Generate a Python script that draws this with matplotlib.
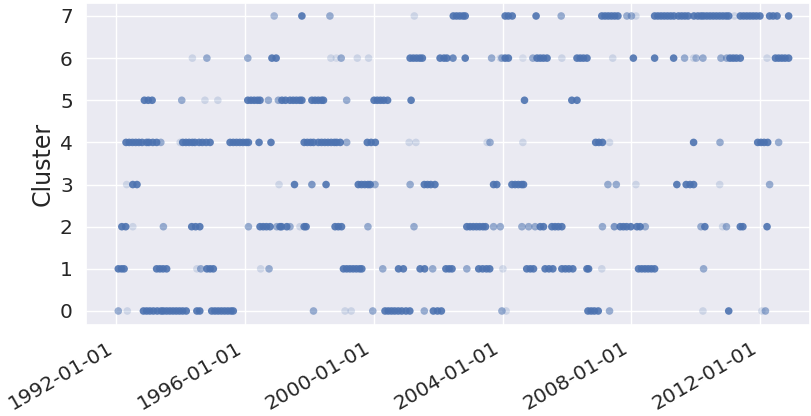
import matplotlib
matplotlib.use('Agg')
import matplotlib.pyplot as plt
import matplotlib.dates as mdates
import numpy as np
import pandas as pd
import seaborn as sns

# (decimal year, weight) per cluster
c0 = [(1992.07, .55), (1992.35, .2), (1992.85, .9), (1992.95, .9), (1993.05, .9), (1993.16, .9), (1993.28, .9),
      (1993.40, .9), (1993.47, .9), (1993.57, .9), (1993.67, .9), (1993.77, .9), (1993.87, .9), (1993.97, .9),
      (1994.07, .9), (1994.18, .9), (1994.51, .9), (1994.60, .9), (1994.97, .9), (1995.07, .9), (1995.17, .9),
      (1995.27, .9), (1995.37, .9), (1995.47, .9), (1995.57, .9), (1995.64, .9), (1998.13, .55), (1999.11, .2),
      (1999.30, .2), (1999.97, .55), (2000.35, .9), (2000.45, .9), (2000.55, .9), (2000.65, .9), (2000.76, .9),
      (2000.87, .9), (2001.00, .9), (2001.12, .9), (2001.57, .55), (2001.85, .9), (2001.98, .9), (2002.10, .9),
      (2003.98, .55), (2004.11, .2), (2006.65, .9), (2006.75, .9), (2006.85, .9), (2006.97, .9), (2007.32, .55),
      (2010.22, .2), (2011.02, .9), (2012.05, .2), (2012.16, .55)]
c1 = [(1992.07, .9), (1992.17, .9), (1992.25, .9), (1993.26, .9), (1993.36, .9), (1993.46, .9), (1993.57, .9),
      (1994.51, .2), (1994.63, .55), (1994.82, .9), (1994.92, .9), (1995.02, .9), (1996.49, .2), (1996.75, .55),
      (1999.06, .9), (1999.16, .9), (1999.26, .9), (1999.36, .9), (1999.46, .9), (1999.56, .9), (1999.63, .9),
      (2000.28, .55), (2000.77, .9), (2000.92, .9), (2001.44, .9), (2001.58, .9), (2001.83, .55), (2002.24, .9),
      (2002.34, .9), (2002.43, .9), (2002.89, .55), (2003.26, .9), (2003.38, .9), (2003.50, .9), (2003.60, .9),
      (2004.01, .2), (2004.75, .9), (2004.86, .9), (2004.96, .9), (2005.32, .9), (2005.44, .9), (2005.56, .9),
      (2005.84, .9), (2005.95, .9), (2006.06, .9), (2006.18, .9), (2006.62, .9), (2006.67, .9), (2007.08, .2),
      (2008.22, .9), (2008.32, .9), (2008.42, .9), (2008.52, .9), (2008.62, .9), (2008.72, .9), (2010.24, .55)]
c2 = [(1992.18, .9), (1992.30, .9), (1992.52, .2), (1993.47, .55), (1994.35, .9), (1994.47, .9), (1994.60, .9),
      (1996.11, .55), (1996.47, .9), (1996.57, .9), (1996.67, .9), (1996.78, .9), (1996.99, .55), (1997.09, .9),
      (1997.14, .9), (1997.30, .9), (1997.40, .55), (1997.71, .2), (1997.84, .9), (1997.90, .9), (1998.80, .9),
      (1998.90, .9), (1999.00, .9), (1999.82, .55), (2001.25, .55), (2002.89, .9), (2002.99, .9), (2003.09, .9),
      (2003.19, .9), (2003.29, .9), (2003.39, .9), (2003.47, .9), (2003.72, .55), (2003.93, .55), (2004.60, .55),
      (2004.81, .55), (2005.01, .55), (2005.17, .9), (2005.27, .9), (2005.53, .9), (2005.63, .9), (2005.73, .9),
      (2005.84, .9), (2007.10, .55), (2007.47, .7), (2007.65, .9), (2007.75, .9), (2007.85, .9), (2007.98, .9),
      (2008.17, .9), (2008.27, .9), (2008.43, .55), (2010.16, .55), (2010.28, .9), (2010.83, .2), (2010.95, .55),
      (2011.38, .9), (2011.46, .9), (2012.21, .9)]
c3 = [(1992.33, .2), (1992.52, .9), (1992.65, .9), (1997.06, .2), (1997.54, .9), (1998.08, .7), (1998.52, .9),
      (1999.52, .9), (1999.62, .9), (1999.72, .9), (1999.82, .9), (1999.89, .9), (2000.04, .55), (2001.13, .55),
      (2001.57, .9), (2001.67, .9), (2001.77, .9), (2001.90, .9), (2003.72, .9), (2003.82, .9), (2004.29, .9),
      (2004.39, .9), (2004.49, .9), (2004.59, .9), (2004.65, .9), (2007.27, .55), (2007.53, .55), (2008.14, .2),
      (2009.41, .9), (2009.70, .9), (2009.82, .9), (2009.93, .9), (2010.74, .2), (2012.29, .55)]
c4 = [(1992.31, .9), (1992.41, .9), (1992.51, .9), (1992.61, .9), (1992.71, .9), (1992.81, .9), (1992.95, .9),
      (1993.02, .9), (1993.14, .9), (1993.26, .9), (1993.39, .55), (1993.99, .2), (1994.07, .9), (1994.17, .9),
      (1994.27, .9), (1994.37, .9), (1994.45, .9), (1994.58, .9), (1994.68, .9), (1994.80, .9), (1994.92, .9),
      (1995.54, .9), (1995.64, .9), (1995.74, .9), (1995.84, .9), (1995.94, .9), (1996.04, .9), (1996.11, .9),
      (1996.44, .9), (1996.81, .9), (1997.84, .9), (1997.94, .9), (1998.04, .9), (1998.13, .9), (1998.28, .9),
      (1998.38, .9), (1998.48, .9), (1998.58, .9), (1998.68, .9), (1998.78, .9), (1998.85, .9), (1998.96, .9),
      (1999.16, .55), (1999.80, .9), (1999.92, .9), (2000.05, .9), (2001.10, .2), (2001.31, .2), (2003.52, .2),
      (2003.61, .55), (2004.63, .2), (2006.89, .9), (2006.99, .9), (2007.10, .9), (2007.32, .2), (2009.93, .9),
      (2010.75, .55), (2011.92, .9), (2012.02, .9), (2012.12, .9), (2012.23, .9), (2012.57, .55)]
c5 = [(1992.88, .9), (1993.00, .9), (1993.12, .9), (1994.04, .55), (1994.76, .2), (1995.16, .2), (1996.09, .9),
      (1996.19, .9), (1996.29, .9), (1996.39, .9), (1996.47, .9), (1996.73, .55), (1997.04, .55), (1997.15, .9),
      (1997.26, .9), (1997.40, .9), (1997.50, .9), (1997.60, .9), (1997.70, .9), (1997.77, .9), (1998.08, .9),
      (1998.18, .9), (1998.28, .9), (1998.38, .9), (1998.44, .9), (1999.16, .55), (2000.01, .9), (2000.11, .9),
      (2000.21, .9), (2000.31, .9), (2000.43, .9), (2001.16, .9), (2004.68, .9), (2006.15, .9), (2006.31, .9)]
c6 = [(1994.37, .2), (1994.82, .55), (1996.09, .55), (1996.84, .9), (1996.97, .9), (1998.67, .2), (1998.84, .15),
      (1998.99, .55), (1999.49, .2), (1999.84, .2), (2001.13, .9), (2001.23, .9), (2001.33, .9), (2001.43, .9),
      (2001.51, .9), (2002.06, .9), (2002.18, .9), (2002.27, .9), (2002.46, .8), (2002.84, .9), (2003.66, .55),
      (2003.93, .2), (2003.98, .55), (2004.08, .9), (2004.18, .9), (2004.63, .15), (2004.94, .55), (2005.07, .9),
      (2005.17, .9), (2005.27, .9), (2005.38, .9), (2005.84, .2), (2006.31, .9), (2006.41, .9), (2006.51, .9),
      (2006.62, .9), (2007.42, .2), (2008.06, .9), (2008.72, .9), (2009.31, .9), (2009.65, .55), (2009.93, .2),
      (2010.01, .45), (2010.22, .55), (2010.78, .55), (2010.96, .55), (2011.06, .9), (2011.16, .9), (2011.26, .9),
      (2011.38, .9), (2012.21, .2), (2012.47, .9), (2012.57, .9), (2012.67, .9), (2012.77, .9), (2012.88, .9)]
c7 = [(1996.91, .45), (1997.77, .9), (1998.64, .55), (2001.26, .2), (2002.47, .9), (2002.57, .9), (2002.67, .9),
      (2002.77, .9), (2002.84, .9), (2004.08, .9), (2004.18, .9), (2004.30, .9), (2005.04, .9), (2005.82, .55),
      (2007.08, .9), (2007.18, .9), (2007.28, .9), (2007.38, .9), (2007.48, .9), (2007.58, .9), (2007.86, .55),
      (2008.00, .55), (2008.14, .2), (2008.72, .9), (2008.82, .9), (2008.92, .9), (2009.02, .9), (2009.12, .9),
      (2009.22, .9), (2009.32, .9), (2009.46, .9), (2009.56, .9), (2009.66, .9), (2009.76, .9), (2009.94, .9),
      (2010.06, .9), (2010.16, .9), (2010.24, .9), (2010.34, .9), (2010.44, .9), (2010.54, .9), (2010.64, .9),
      (2010.74, .9), (2010.84, .9), (2010.94, .9), (2011.02, .9), (2011.20, .2), (2011.38, .9), (2011.48, .9),
      (2011.58, .9), (2011.68, .9), (2011.78, .9), (2011.88, .9), (2011.99, .9), (2012.29, .9), (2012.40, .9),
      (2012.52, .9), (2012.88, .9)]

clusters = [c0, c1, c2, c3, c4, c5, c6, c7]


def to_dates(pts):
    # decimal years -> timestamps
    yrs = np.array([p[0] for p in pts])
    return pd.Timestamp('1992-01-01') + pd.to_timedelta((yrs - 1992) * 365.25, unit='D')


sns.set_theme(style='darkgrid')

fig, ax = plt.subplots(figsize=(8.11, 4.16), dpi=100)
for k, pts in enumerate(clusters):
    ax.scatter(to_dates(pts), [k] * len(pts), s=30, color='#4c72b0',
               alpha=[p[1] for p in pts], linewidths=0)

ax.set_ylabel('Cluster', fontsize=17)
ax.tick_params(labelsize=14.5)
ax.set_yticks(range(len(clusters)))
ax.xaxis.set_major_locator(mdates.YearLocator(4))
ax.xaxis.set_major_formatter(mdates.DateFormatter('%Y-%m-%d'))
plt.setp(ax.get_xticklabels(), rotation=30, ha='right')
ax.set_xlim(pd.Timestamp('1991-01-25'), pd.Timestamp('2013-07-20'))
ax.set_ylim(-0.33, 7.31)
fig.subplots_adjust(left=0.106, right=0.999, top=0.993, bottom=0.219)
fig.savefig('out.png')
